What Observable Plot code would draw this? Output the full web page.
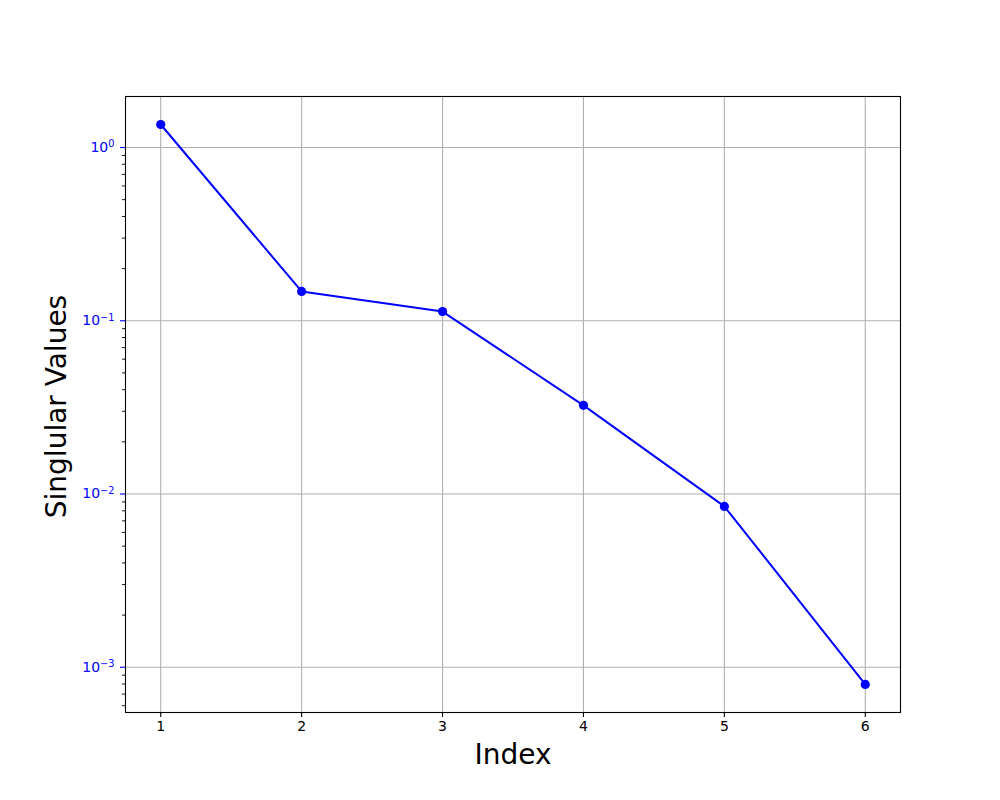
<!DOCTYPE html>
<html>
<head>
<meta charset="utf-8">
<script src="https://cdn.jsdelivr.net/npm/d3@7"></script>
<script src="https://cdn.jsdelivr.net/npm/@observablehq/plot@0.6"></script>
<style>
  html, body { margin: 0; padding: 0; background: white; }
</style>
</head>
<body>
<div id="chart"></div>
<script>
const indices = [1, 2, 3, 4, 5, 6];
const singularValues = [1.358, 0.1476, 0.113, 0.0325, 0.00848, 0.000796];
const xTicks = [1, 2, 3, 4, 5, 6];
const xTickLabels = ["1", "2", "3", "4", "5", "6"];
const yMajorTicks = [1e-3, 1e-2, 1e-1, 1];
const yTickExponents = ["\u22123", "\u22122", "\u22121", "0"];
const minorMultipliers = [2, 3, 4, 5, 6, 7, 8, 9];
const minorDecades = [1e-4, 1e-3, 1e-2, 1e-1];

const yDomain = [5.48e-4, 1.97];
const yMinorTicks = [];
for (const d of minorDecades) for (const m of minorMultipliers) {
  const v = m * d;
  if (v >= yDomain[0] && v <= yDomain[1]) yMinorTicks.push(v);
}

const data = indices.map((x, i) => ({x, y: singularValues[i]}));
const expOf = new Map(yMajorTicks.map((v, i) => [v, yTickExponents[i]]));
const xLabelOf = new Map(xTicks.map((v, i) => [v, xTickLabels[i]]));

const chart = Plot.plot({
  width: 1000,
  height: 800,
  marginLeft: 125,
  marginRight: 100,
  marginTop: 96,
  marginBottom: 88,
  style: {fontFamily: "DejaVu Sans", fontSize: "14px", background: "white"},
  x: {domain: [0.75, 6.25]},
  y: {type: "log", domain: yDomain},
  marks: [
    Plot.gridX(xTicks, {stroke: "#b0b0b0", strokeOpacity: 1, strokeWidth: 1.1}),
    Plot.gridY(yMajorTicks, {stroke: "#b0b0b0", strokeOpacity: 1, strokeWidth: 1.1}),
    Plot.axisX(xTicks, {tickSize: 5, tickPadding: 4, fontSize: 14, label: null, color: "black", strokeWidth: 1.1, tickFormat: d => xLabelOf.get(d)}),
    Plot.axisY(yMinorTicks, {tickSize: 3, tickFormat: () => "", label: null, color: "black", strokeWidth: 0.9}),
    Plot.axisY(yMajorTicks, {tickSize: 5, tickPadding: 6, fontSize: 14, label: null, color: "blue", strokeWidth: 1.1, tickFormat: d => "10^" + expOf.get(d)}),
    Plot.line(data, {x: "x", y: "y", stroke: "blue", strokeWidth: 2}),
    Plot.dot(data, {x: "x", y: "y", fill: "blue", stroke: "none", r: 4.6}),
    Plot.frame({stroke: "black", strokeWidth: 1.1}),
    Plot.text(["Index"], {frameAnchor: "bottom", lineAnchor: "bottom", dy: 51, fontSize: 28, fill: "black"}),
    Plot.text(["Singlular Values"], {frameAnchor: "left", lineAnchor: "bottom", textAnchor: "middle", dx: -60, dy: 2, rotate: -90, fontSize: 28, fill: "black"})
  ]
});

// render exponents as superscripts
chart.querySelectorAll("text").forEach(t => {
  const m = /^10\^(.+)$/.exec(t.textContent);
  if (!m) return;
  const exp = m[1];
  t.textContent = "";
  t.appendChild(document.createTextNode("10"));
  const ts = document.createElementNS("http://www.w3.org/2000/svg", "tspan");
  ts.setAttribute("dy", "-4.5");
  ts.setAttribute("font-size", "70%");
  ts.textContent = exp;
  t.appendChild(ts);
});

document.getElementById("chart").appendChild(chart);
</script>
</body>
</html>
